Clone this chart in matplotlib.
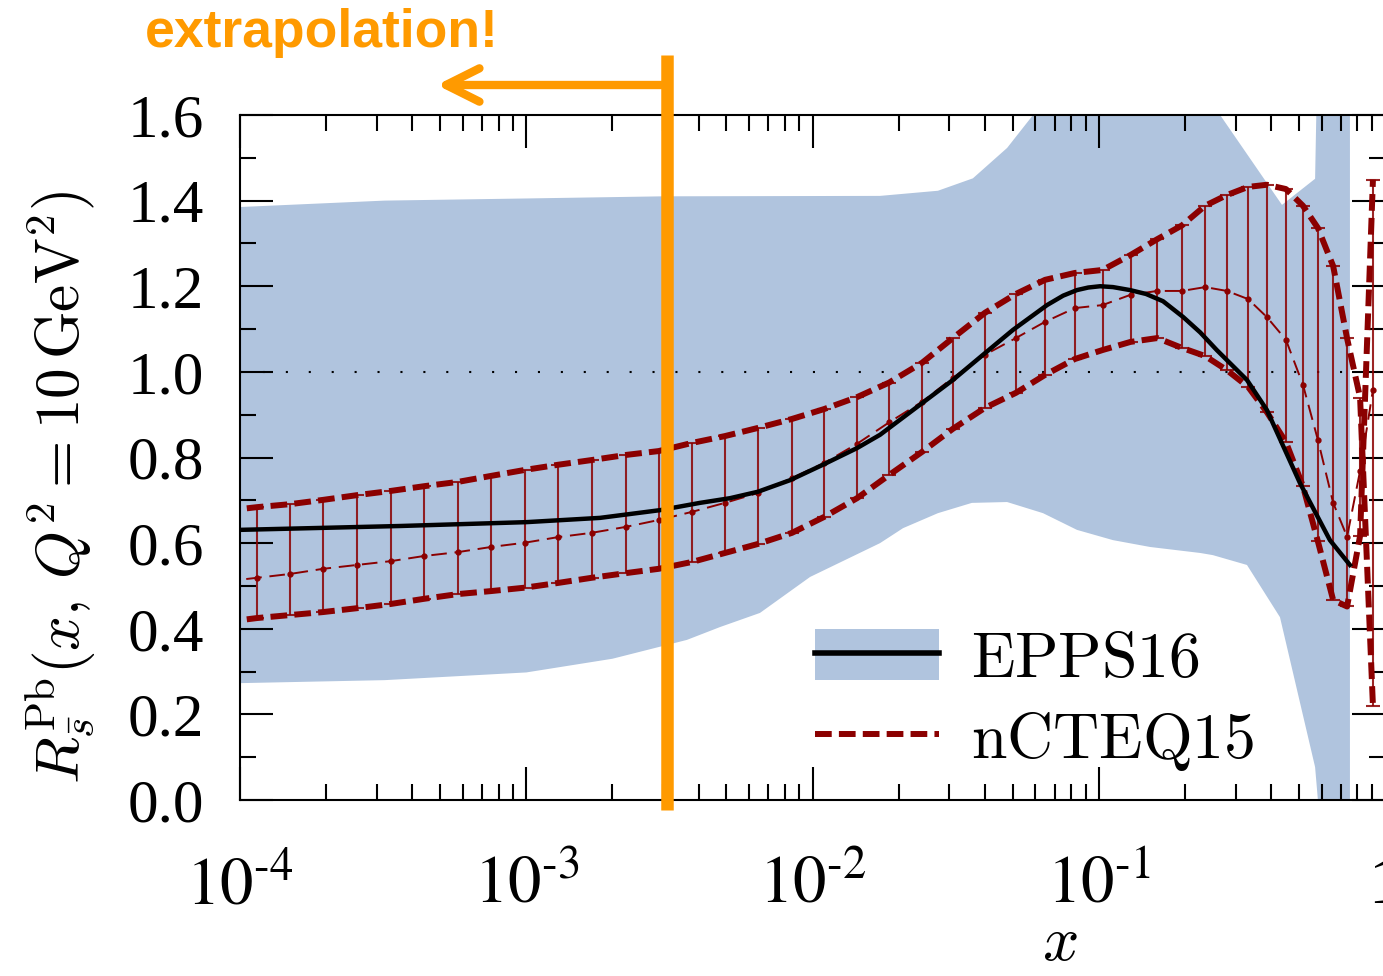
import numpy as np
import matplotlib
matplotlib.use("Agg")
import matplotlib.pyplot as plt
import matplotlib.ticker as mticker
from matplotlib.patches import Patch
from matplotlib.lines import Line2D
from matplotlib.font_manager import FontProperties

plt.rcParams.update({
    "font.family": "Liberation Serif",
    "mathtext.fontset": "stix",
    "xtick.direction": "in",
    "ytick.direction": "in",
    "xtick.top": True,
    "ytick.right": True,
    "axes.linewidth": 1.5,
})

# --- EPPS16 uncertainty band (upper / lower edges) ---
epps_up_x = [1e-4, 3.2e-4, 1e-3, 3e-3, 1.72e-2, 2.74e-2, 3.63e-2, 4.78e-2, 5.89e-2,
             0.08, 0.2, 0.265, 0.436, 0.569, 0.582, 0.753]
epps_up_y = [1.385, 1.400, 1.405, 1.410, 1.411, 1.423, 1.452, 1.523, 1.600,
             1.800, 1.800, 1.600, 1.390, 1.451, 1.800, 1.800]
epps_lo_x = [1e-4, 3.2e-4, 1e-3, 2e-3, 3.64e-3, 4.75e-3, 6.55e-3, 9.8e-3, 1.72e-2,
             2.07e-2, 2.74e-2, 3.6e-2, 4.78e-2, 6.38e-2, 8.38e-2, 0.112, 0.151,
             0.226, 0.250, 0.329, 0.429, 0.569, 0.582, 0.600, 0.753]
epps_lo_y = [0.273, 0.280, 0.298, 0.330, 0.374, 0.404, 0.437, 0.521, 0.600,
             0.635, 0.670, 0.694, 0.696, 0.670, 0.631, 0.607, 0.591,
             0.577, 0.572, 0.549, 0.427, 0.077, 0.000, -0.100, -0.100]

# --- EPPS16 central ---
epps_x = [1e-4, 3.62e-4, 9.99e-4, 1.81e-3, 2.93e-3, 4.04e-3, 5.15e-3, 6.44e-3, 8.34e-3,
          1.086e-2, 1.43e-2, 1.72e-2, 2.37e-2, 3.09e-2, 3.94e-2, 5.01e-2, 6.59e-2,
          7.5e-2, 8.38e-2, 0.0918, 0.101, 0.112, 0.1285, 0.146, 0.1675, 0.197, 0.226,
          0.258, 0.329, 0.386, 0.504, 0.641, 0.753]
epps_y = [0.631, 0.640, 0.649, 0.659, 0.677, 0.694, 0.705, 0.720, 0.747,
          0.783, 0.822, 0.853, 0.923, 0.981, 1.040, 1.098, 1.156,
          1.178, 1.191, 1.197, 1.200, 1.198, 1.191, 1.182, 1.165, 1.128, 1.092,
          1.051, 0.981, 0.911, 0.740, 0.607, 0.549]

# --- nCTEQ15 points ---
nc_x = [8.73e-5, 1.146e-4, 1.496e-4, 1.95e-4, 2.56e-4, 3.37e-4, 4.40e-4, 5.77e-4, 7.53e-4,
        9.89e-4, 1.29e-3, 1.69e-3, 2.23e-3, 2.90e-3, 3.79e-3, 4.94e-3, 6.44e-3, 8.47e-3,
        1.096e-2, 1.43e-2, 1.85e-2, 2.41e-2, 3.09e-2, 4.00e-2, 5.13e-2, 6.49e-2, 8.24e-2,
        0.103, 0.129, 0.160, 0.195, 0.235, 0.280, 0.332, 0.386, 0.450, 0.516, 0.582,
        0.658, 0.736, 0.817, 0.906]
nc_c = [0.510, 0.519, 0.528, 0.540, 0.549, 0.558, 0.570, 0.579, 0.591,
        0.601, 0.614, 0.624, 0.638, 0.654, 0.673, 0.694, 0.717, 0.752,
        0.787, 0.832, 0.882, 0.930, 0.986, 1.040, 1.079, 1.117, 1.149,
        1.156, 1.180, 1.189, 1.189, 1.198, 1.189, 1.170, 1.128, 1.075, 0.970, 0.841,
        0.694, 0.615, 0.769, 0.958]
nc_up = [0.675, 0.684, 0.691, 0.701, 0.712, 0.722, 0.733, 0.743, 0.757,
         0.771, 0.783, 0.794, 0.806, 0.815, 0.834, 0.850, 0.869, 0.890,
         0.913, 0.941, 0.975, 1.021, 1.079, 1.138, 1.182, 1.215, 1.231,
         1.238, 1.273, 1.310, 1.342, 1.388, 1.413, 1.432, 1.437, 1.427, 1.388, 1.336,
         1.247, 1.078, 0.940, 0.220]
nc_lo = [0.415, 0.425, 0.432, 0.439, 0.448, 0.458, 0.470, 0.481, 0.488,
         0.496, 0.507, 0.519, 0.530, 0.540, 0.556, 0.577, 0.598, 0.624,
         0.661, 0.705, 0.759, 0.813, 0.867, 0.916, 0.951, 0.993, 1.030,
         1.051, 1.070, 1.079, 1.056, 1.037, 1.004, 0.965, 0.906, 0.836, 0.733, 0.604,
         0.467, 0.452, 0.617, 1.449]

y_ticks = [0.0, 0.2, 0.4, 0.6, 0.8, 1.0, 1.2, 1.4, 1.6]

BAND = "#b0c4de"
RED = "#8b0000"
ORANGE = "#ff9a00"
EXTRAP_X = 3.1e-3

fig = plt.figure(figsize=(13.83, 9.76), dpi=100)
ax = fig.add_axes([0.1735, 0.1803, 0.8281, 0.7019])

# band
poly_x = list(epps_up_x) + list(epps_lo_x[::-1])
poly_y = list(epps_up_y) + list(epps_lo_y[::-1])
ax.fill(poly_x, poly_y, color=BAND, lw=0, zorder=1)

ax.axhline(1.0, color="black", lw=1.5, ls=(0, (1, 10)), zorder=2)
ax.plot(epps_x, epps_y, color="black", lw=3.2, zorder=4, solid_joinstyle="round")

nc_c = np.array(nc_c)
nc_up = np.array(nc_up)
nc_lo = np.array(nc_lo)
hi = np.maximum(nc_up, nc_lo)
lo = np.minimum(nc_up, nc_lo)
ax.errorbar(nc_x, nc_c, yerr=[nc_c - lo, hi - nc_c], fmt="none", ecolor=RED,
            elinewidth=1.5, capsize=5, capthick=1.5, alpha=0.85, zorder=3)
ax.plot(nc_x, nc_c, color=RED, lw=1.4, ls=(0, (8, 4)), marker="o", ms=3.5, zorder=3)
dash = (0, (2.8, 1.2))
ax.plot(nc_x, nc_up, color=RED, lw=4.3, ls=dash, zorder=3)
ax.plot(nc_x, nc_lo, color=RED, lw=4.3, ls=dash, zorder=3)

ax.set_xscale("log")
ax.set_xlim(1e-4, 1)
ax.set_ylim(0, 1.6)
ax.set_yticks(y_ticks)
ax.yaxis.set_minor_locator(mticker.MultipleLocator(0.1))
ax.yaxis.set_major_formatter(mticker.FormatStrFormatter("%.1f"))
ax.xaxis.set_major_locator(mticker.LogLocator(base=10, numticks=10))
ax.xaxis.set_minor_locator(mticker.LogLocator(base=10, subs=np.arange(2, 10), numticks=20))
ax.xaxis.set_minor_formatter(mticker.NullFormatter())


def xfmt(v, pos):
    e = int(round(np.log10(v)))
    if e == 0:
        return "1"
    return r"$10^{\text{-}%d}$" % abs(e)


ax.xaxis.set_major_formatter(mticker.FuncFormatter(xfmt))
ax.tick_params(which="major", length=24, width=1.5)
ax.tick_params(which="minor", length=11.5, width=1.5)
ax.tick_params(axis="x", which="major", labelsize=48, pad=40)
ax.tick_params(axis="y", which="major", labelsize=44, pad=26)

# extrapolation marker
ax.plot([EXTRAP_X, EXTRAP_X], [-0.023, 1.74], color=ORANGE, lw=9, clip_on=False, zorder=10,
        solid_capstyle="butt")
ax.annotate("", xy=(4.87e-4, 1.670), xytext=(EXTRAP_X, 1.670), annotation_clip=False,
            arrowprops=dict(arrowstyle="->,head_length=1.2,head_width=0.6", lw=6,
                            color=ORANGE, shrinkA=0, shrinkB=0, mutation_scale=20),
            zorder=10)
fig.text(322 / 1383, 1 - 33 / 976, "extrapolation!", fontsize=38.5, fontweight="bold",
         family="Liberation Sans", color=ORANGE, ha="center", va="center")

# labels
fig.text(60 / 1383, 1 - 487 / 976, r"$R_{\bar{s}}^{\rm Pb}(x,\,Q^2 = 10\,{\rm GeV}^2)$",
         rotation=90, fontsize=44, math_fontfamily="cm", ha="center", va="center")
fig.text(1060 / 1383, 1 - 945 / 976, r"$x$", fontsize=46, math_fontfamily="cm",
         ha="center", va="center")

handles = [
    (Patch(facecolor=BAND, edgecolor="none"), Line2D([], [], color="black", lw=4)),
    Line2D([], [], color=RED, lw=4.3, ls=dash),
]
leg = ax.legend(handles, [r"$\mathrm{EPPS16}$", r"$\mathrm{nCTEQ15}$"],
                prop=FontProperties(size=46, math_fontfamily="cm"),
                loc="upper left", bbox_to_anchor=(0.502, 0.25), frameon=False,
                borderpad=0, borderaxespad=0, handlelength=1.95, handleheight=0.86,
                handletextpad=0.5, labelspacing=0.3)

fig.savefig("out.png", dpi=100)
